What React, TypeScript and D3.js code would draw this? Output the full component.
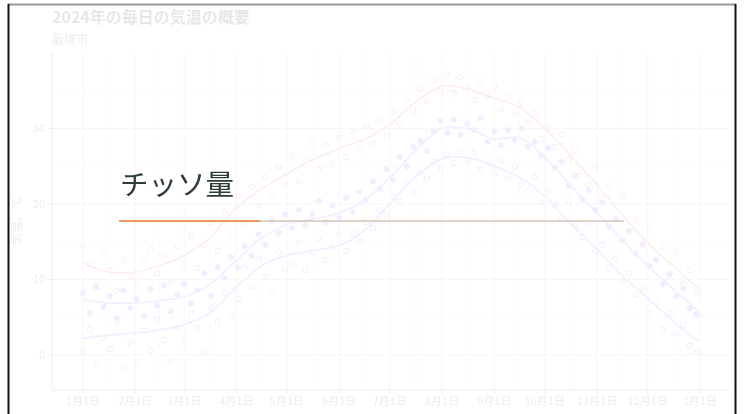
import React from "react";
import * as d3 from "d3";

const W = 744;
const H = 414;

// scatter: one reading every 4 days from 1 Jan 2024
const DAY_STEP = 4;
const HIGH = [
  14.5, 12.0, 9.8, 13.8, 11.2, 8.5, 12.6, 10.4,
  9.2, 12.5, 14.0, 10.8, 13.2, 9.6, 14.3,
  12.0, 15.8, 11.5, 14.6, 17.4, 13.8, 18.9, 16.2,
  21.0, 17.5, 22.3, 19.8, 23.5, 21.2, 25.0, 22.6,
  26.3, 23.0, 25.8, 28.2, 24.6, 27.8, 25.4, 28.8,
  26.2, 29.5, 27.4, 30.2, 28.0, 31.3, 29.0, 32.2,
  30.6, 33.8, 32.4, 35.2, 33.6, 36.4, 35.0, 37.2,
  34.6, 36.8, 35.4, 33.8, 36.2, 34.4, 35.6, 32.6,
  34.2, 31.8, 33.4, 30.8, 32.0, 28.6, 30.4, 27.6,
  29.2, 25.8, 27.0, 24.2, 22.6, 24.8, 20.8, 22.4,
  18.2, 21.0, 16.4, 17.8, 14.6, 16.8, 12.6, 14.2,
  10.8, 13.6, 9.4, 11.2, 8.2,
];
const MEAN = [
  8.2, 5.6, 9.0, 6.4, 7.8, 4.9, 8.6, 6.2,
  7.4, 5.2, 8.8, 6.6, 9.2, 5.8, 8.0,
  9.4, 6.8, 8.6, 10.8, 7.9, 11.6, 10.2, 13.0,
  11.6, 14.4, 13.2, 16.0, 14.6, 17.8, 16.2, 18.6,
  16.8, 19.2, 17.2, 18.6, 20.4, 17.6, 19.8, 18.2,
  20.8, 19.0, 21.6, 20.6, 23.0, 22.0, 24.6, 23.2,
  26.2, 25.0, 27.6, 28.4, 27.0, 29.6, 31.0, 29.4,
  31.2, 29.2, 30.6, 29.8, 31.4, 28.2, 29.6, 27.8,
  29.8, 28.4, 30.0, 27.6, 28.2, 26.4, 27.4, 24.8,
  25.6, 22.4, 23.8, 20.6, 21.8, 19.2, 20.2, 17.0,
  18.0, 15.2, 16.4, 13.4, 14.6, 11.8, 12.6, 9.4,
  10.6, 7.8, 8.8, 6.2, 5.4,
];
const LOW = [
  0.4, 3.4, -1.2, 2.2, 0.8, 4.4, -1.8, 1.6,
  -1.0, 3.2, 0.6, 4.8, 2.0, -0.8, 3.6,
  2.2, 5.6, 3.6, 0.4, 6.2, 4.4, 8.2, 5.2,
  7.4, 11.6, 9.0, 12.8, 10.4, 8.2, 13.6, 11.4,
  12.0, 14.8, 11.2, 13.6, 15.4, 12.6, 14.2, 16.0,
  13.8, 16.2, 15.0, 17.6, 16.8, 19.2, 18.4, 21.0,
  20.4, 22.8, 21.6, 24.2, 23.4, 25.6, 24.8, 26.6,
  25.4, 27.0, 25.8, 26.8, 24.6, 25.6, 24.0, 25.8,
  23.4, 25.0, 22.6, 21.8, 23.6, 20.2, 21.6, 19.8,
  18.2, 20.4, 17.0, 15.6, 17.2, 13.8, 14.6, 11.6,
  12.8, 9.8, 10.8, 8.0, 8.8, 5.6, 6.8, 3.4,
  5.6, 2.8, 4.0, 1.2, 0.4,
];

// smoothed trend, read at the 1st and mid of each month
const SMOOTH_DAYS = [0, 15, 31, 45, 60, 75, 91, 106, 121, 136, 152, 167, 182, 197, 213, 228, 244, 259, 274, 289, 305, 320, 335, 350, 365];
const HIGH_SMOOTH = [12.2, 11.0, 11.0, 11.8, 13.2, 15.5, 19.5, 22.0, 24.0, 25.8, 27.4, 28.6, 30.5, 33.5, 35.6, 35.2, 34.0, 32.8, 30.0, 26.5, 22.5, 18.5, 14.8, 11.8, 8.8];
const MEAN_SMOOTH = [7.3, 6.9, 6.9, 7.2, 7.7, 9.3, 12.5, 15.5, 17.3, 18.0, 18.8, 20.5, 23.5, 27.0, 30.0, 30.0, 28.6, 28.8, 26.2, 22.5, 18.8, 15.2, 11.8, 8.8, 5.8];
const LOW_SMOOTH = [2.2, 2.6, 2.9, 3.3, 4.0, 5.5, 9.0, 11.8, 13.2, 13.8, 14.5, 16.5, 20.0, 23.5, 26.0, 26.2, 25.0, 23.5, 21.0, 17.5, 14.0, 10.5, 7.5, 4.5, 1.8];

const Y_TICKS = [0, 10, 20, 30];
const Y_MINOR = [5, 15, 25, 35];

const TITLE = "2024年の毎日の気温の概要";
const SUBTITLE = "飯塚市";
const Y_TITLE = "気温、°C";
const OVERLAY = "チッソ量";
const PROGRESS = 0.28; // share of the bar in orange

const FONT = "'Noto Sans CJK JP', 'Noto Sans', sans-serif";
const PANEL = { left: 52, right: 729, top: 52, bottom: 390 };

const START = new Date(2024, 0, 1);
const dayToDate = (d: number) => d3.timeDay.offset(START, d);

const App = () => {
  const xScale = d3.scaleTime().domain([START, new Date(2025, 0, 1)]).range([83, 700]);
  const yScale = d3.scaleLinear().domain([0, 30]).range([355, 128.5]);

  const months = d3.timeMonth.range(START, new Date(2025, 0, 2));
  const minorX = months.slice(0, -1).map((m, i) => new Date((m.getTime() + months[i + 1].getTime()) / 2));

  const series = [
    { name: "high", values: HIGH, smooth: HIGH_SMOOTH, color: "#e8453c", filled: false },
    { name: "mean", values: MEAN, smooth: MEAN_SMOOTH, color: "#7050ff", filled: true },
    { name: "low", values: LOW, smooth: LOW_SMOOTH, color: "#5a5cff", filled: false },
  ];

  const line = d3
    .line<number>()
    .x((_, i) => xScale(dayToDate(SMOOTH_DAYS[i])))
    .y((d) => yScale(d))
    .curve(d3.curveCatmullRom);

  const barX0 = 119;
  const barX1 = 624;
  const barMid = barX0 + (barX1 - barX0) * PROGRESS;

  return (
    <svg width={W} height={H} style={{ position: "absolute", left: 0, top: 0, background: "#fff" }}>
      <g opacity={0.1} fontFamily={FONT}>
        {Y_MINOR.map((v) => (
          <line key={`ym${v}`} x1={PANEL.left} x2={PANEL.right} y1={yScale(v)} y2={yScale(v)} stroke="#bbb" strokeWidth={0.6} />
        ))}
        {minorX.map((d, i) => (
          <line key={`xm${i}`} x1={xScale(d)} x2={xScale(d)} y1={PANEL.top} y2={PANEL.bottom} stroke="#bbb" strokeWidth={0.6} />
        ))}
        {Y_TICKS.map((v) => (
          <line key={`y${v}`} x1={PANEL.left} x2={PANEL.right} y1={yScale(v)} y2={yScale(v)} stroke="#aaa" strokeWidth={1} />
        ))}
        {months.map((d, i) => (
          <line key={`x${i}`} x1={xScale(d)} x2={xScale(d)} y1={PANEL.top} y2={PANEL.bottom} stroke="#aaa" strokeWidth={1} />
        ))}

        {series.map((s) => (
          <g key={s.name}>
            {s.values.map((v, i) => (
              <circle
                key={i}
                cx={xScale(dayToDate(i * DAY_STEP))}
                cy={yScale(v)}
                r={2.6}
                fill={s.filled ? s.color : "none"}
                stroke={s.color}
                strokeWidth={1}
              />
            ))}
            <path d={line(s.smooth) ?? ""} fill="none" stroke={s.color} strokeWidth={1.5} />
          </g>
        ))}

        <line x1={PANEL.left} x2={PANEL.right} y1={PANEL.bottom} y2={PANEL.bottom} stroke="#555" />
        <line x1={PANEL.left} x2={PANEL.left} y1={PANEL.top} y2={PANEL.bottom} stroke="#555" />
        {months.map((d, i) => (
          <g key={`xt${i}`} transform={`translate(${xScale(d)},${PANEL.bottom})`}>
            <line y2={4} stroke="#555" />
            <text y={15} textAnchor="middle" fontSize={11} fill="#333">
              {`${d.getMonth() + 1}月1日`}
            </text>
          </g>
        ))}
        {Y_TICKS.map((v) => (
          <g key={`yt${v}`} transform={`translate(${PANEL.left},${yScale(v)})`}>
            <line x2={-4} stroke="#555" />
            <text x={-7} dy="0.35em" textAnchor="end" fontSize={11} fill="#333">{v}</text>
          </g>
        ))}
        <text transform={`translate(21,${(PANEL.top + PANEL.bottom) / 2}) rotate(-90)`} textAnchor="middle" fontSize={12} fill="#333">
          {Y_TITLE}
        </text>
        <text x={52} y={23} fontSize={16} fontWeight="bold" fill="#000">{TITLE}</text>
        <text x={52} y={44} fontSize={12} fill="#333">{SUBTITLE}</text>
      </g>

      <text x={120} y={195} fontFamily={FONT} fontSize={28.5} fill="#2d3b3b">{OVERLAY}</text>
      <line x1={barX0} x2={barMid} y1={221} y2={221} stroke="#e07a2e" strokeWidth={1.5} />
      <line x1={barMid} x2={barX1} y1={221} y2={221} stroke="#d2c4b6" strokeWidth={1.5} />

      <line x1={8} x2={736} y1={4.5} y2={4.5} stroke="#999" strokeWidth={2} />
      <line x1={8.5} x2={8.5} y1={4} y2={H} stroke="#111" strokeWidth={2} />
      <line x1={735.5} x2={735.5} y1={4} y2={H} stroke="#111" strokeWidth={2} />
    </svg>
  );
};

export default App;
